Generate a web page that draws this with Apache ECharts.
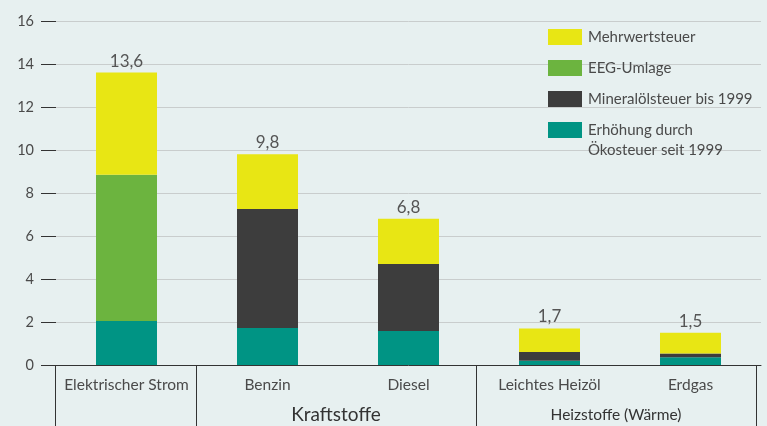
<!DOCTYPE html>
<html>
<head>
<meta charset="utf-8">
<script src="https://cdn.jsdelivr.net/npm/echarts@6/dist/echarts.min.js"></script>
<style>
  html, body { margin: 0; padding: 0; background: #e7f0f0; }
  #chart { width: 767px; height: 426px; }
</style>
</head>
<body>
<div id="chart"></div>
<script>
const categories = ['Elektrischer Strom', 'Benzin', 'Diesel', 'Leichtes Heizöl', 'Erdgas'];
const oekosteuer = [2.05, 1.72, 1.58, 0.2, 0.36];
const mineraloelsteuer = [0, 5.54, 3.12, 0.4, 0.17];
const eegUmlage = [6.8, 0, 0, 0, 0];
const mehrwertsteuer = [4.75, 2.54, 2.1, 1.1, 0.97];
const totals = [13.6, 9.8, 6.8, 1.7, 1.5];
const yTicks = [0, 2, 4, 6, 8, 10, 12, 14, 16];

const FONT = 'Lato, "Noto Sans", sans-serif';
const TEXT = '#4a4a4a';

const chart = echarts.init(document.getElementById('chart'));

function barSeries(name, data, color) {
  return {
    name,
    type: 'bar',
    stack: 'total',
    data,
    barWidth: 61,
    itemStyle: { color },
    emphasis: { disabled: true },
  };
}

const topSeries = barSeries('Mehrwertsteuer', mehrwertsteuer, '#e8e614');
topSeries.label = {
  show: true,
  position: 'top',
  distance: 3,
  fontFamily: FONT,
  fontSize: 17,
  color: '#555',
  formatter: (p) => String(totals[p.dataIndex]).replace('.', ','),
};

const option = {
  backgroundColor: '#e7f0f0',
  animation: false,
  grid: { left: 56, right: 6, top: 21, bottom: 61 },
  legend: [
    {
      orient: 'vertical',
      left: 543,
      top: 24,
      itemWidth: 34,
      itemHeight: 16,
      itemGap: 15,
      icon: 'rect',
      selectedMode: false,
      textStyle: { fontFamily: FONT, fontSize: 15, color: TEXT, padding: [0, 0, 0, 1] },
      data: ['Mehrwertsteuer', 'EEG-Umlage', 'Mineralölsteuer bis 1999'],
    },
    {
      orient: 'vertical',
      left: 543,
      top: 95,
      itemWidth: 34,
      itemHeight: 16,
      icon: 'rect',
      selectedMode: false,
      formatter: (name) => ' \n' + name,
      textStyle: {
        fontFamily: FONT, fontSize: 15, color: TEXT, lineHeight: 20,
        padding: [0, 0, 0, 1],
      },
      data: ['Erhöhung durch\nÖkosteuer seit 1999'],
    },
  ],
  xAxis: {
    type: 'category',
    data: categories,
    axisLine: { lineStyle: { color: '#333', width: 1 } },
    axisTick: { show: false },
    axisLabel: { interval: 0, fontFamily: FONT, fontSize: 15.5, color: TEXT, margin: 12 },
  },
  yAxis: {
    type: 'value',
    min: yTicks[0],
    max: yTicks[yTicks.length - 1],
    interval: 2,
    axisLine: { show: false },
    axisTick: { show: true, length: 15, lineStyle: { color: '#333' } },
    axisLabel: { fontFamily: FONT, fontSize: 14.5, color: TEXT, margin: 22 },
    splitLine: { lineStyle: { color: '#c9cdcd', width: 1 } },
  },
  graphic: [
    { type: 'line', shape: { x1: 55.5, y1: 365, x2: 55.5, y2: 426 }, style: { stroke: '#333', lineWidth: 1 } },
    { type: 'line', shape: { x1: 196.5, y1: 365, x2: 196.5, y2: 426 }, style: { stroke: '#333', lineWidth: 1 } },
    { type: 'line', shape: { x1: 476.5, y1: 365, x2: 476.5, y2: 426 }, style: { stroke: '#333', lineWidth: 1 } },
    { type: 'line', shape: { x1: 756.5, y1: 365, x2: 756.5, y2: 426 }, style: { stroke: '#333', lineWidth: 1 } },
    {
      type: 'text', x: 336, y: 415,
      style: { text: 'Kraftstoffe', fontFamily: FONT, fontSize: 19, fill: '#333', align: 'center', verticalAlign: 'middle' },
    },
    {
      type: 'text', x: 616, y: 415,
      style: { text: 'Heizstoffe (Wärme)', fontFamily: FONT, fontSize: 15.5, fill: '#333', align: 'center', verticalAlign: 'middle' },
    },
  ],
  series: [
    barSeries('Erhöhung durch\nÖkosteuer seit 1999', oekosteuer, '#009484'),
    barSeries('Mineralölsteuer bis 1999', mineraloelsteuer, '#3d3d3d'),
    barSeries('EEG-Umlage', eegUmlage, '#6cb43f'),
    topSeries,
  ],
};

chart.setOption(option);
</script>
</body>
</html>
